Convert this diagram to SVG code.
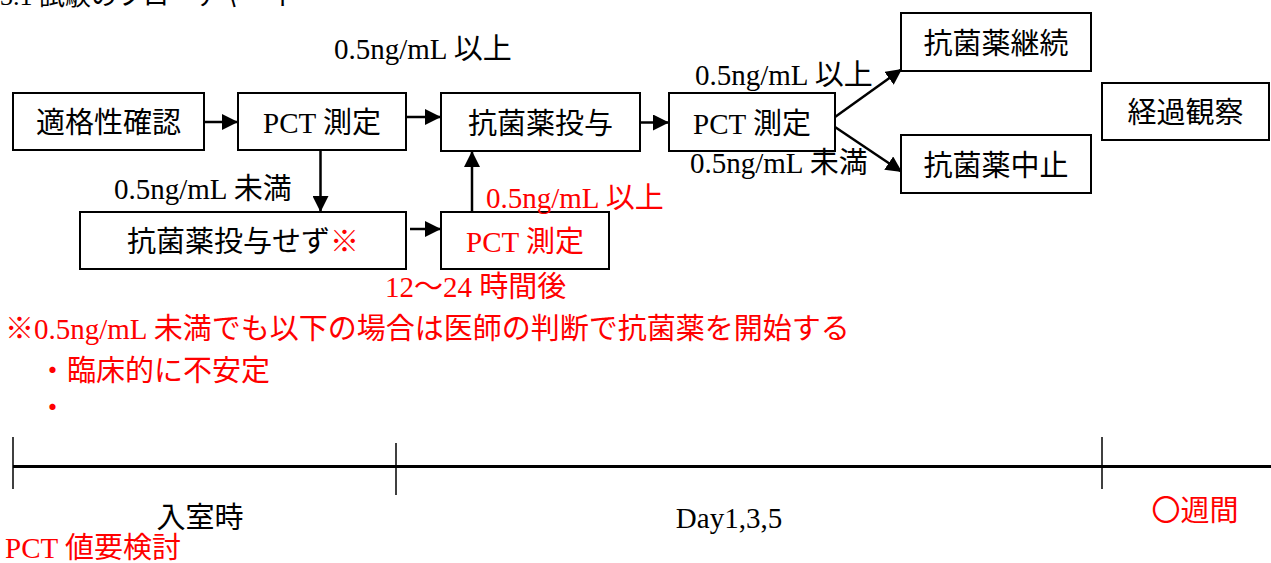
<svg xmlns="http://www.w3.org/2000/svg" width="1271" height="563" viewBox="0 0 1271 563">
<style>
text{font-family:"Liberation Serif","Noto Sans CJK JP",serif;font-size:29px;fill:#000}
.r{fill:#ff0000}
.c{text-anchor:middle}
.box{fill:#fff;stroke:#000;stroke-width:2}
.conn{stroke:#000;stroke-width:2.5;fill:none}
.tl{stroke:#000;fill:none}
</style>
<defs>
<marker id="ah" markerUnits="userSpaceOnUse" markerWidth="17" markerHeight="16" refX="16" refY="8" orient="auto">
<path d="M0,0 L16,8 L0,16 z" fill="#000"/>
</marker>
</defs>
<text x="0" y="5" style="font-size:26px">3.1 試験のフローチャート</text>

<g id="connectors">
<line class="conn" x1="204" y1="122" x2="238" y2="122" marker-end="url(#ah)"/>
<line class="conn" x1="406" y1="117" x2="441" y2="117" marker-end="url(#ah)"/>
<line class="conn" x1="640" y1="122.5" x2="669" y2="122.5" marker-end="url(#ah)"/>
<line class="conn" x1="320.5" y1="150" x2="320.5" y2="212" marker-end="url(#ah)"/>
<line class="conn" x1="472" y1="212" x2="472" y2="151" marker-end="url(#ah)"/>
<line class="conn" x1="410" y1="229" x2="441" y2="229" marker-end="url(#ah)"/>
<line class="conn" x1="835" y1="117" x2="902" y2="69" marker-end="url(#ah)"/>
<line class="conn" x1="835" y1="127" x2="902" y2="172" marker-end="url(#ah)"/>
</g>

<g id="n-eligibility"><rect class="box" x="13" y="93" width="191" height="57"/><text class="c" x="108.5" y="133">適格性確認</text></g>
<g id="n-pct1"><rect class="box" x="238" y="93" width="168" height="57"/><text class="c" x="322" y="133">PCT 測定</text></g>
<g id="n-abx"><rect class="box" x="441" y="93" width="199" height="58"/><text class="c" x="540.5" y="134">抗菌薬投与</text></g>
<g id="n-pct2"><rect class="box" x="669" y="93" width="166" height="58"/><text class="c" x="752" y="134">PCT 測定</text></g>
<g id="n-continue"><rect class="box" x="901" y="13" width="190" height="58"/><text class="c" x="996" y="54">抗菌薬継続</text></g>
<g id="n-stop"><rect class="box" x="901" y="135" width="190" height="58"/><text class="c" x="996" y="176">抗菌薬中止</text></g>
<g id="n-observe"><rect class="box" x="1102" y="83" width="167" height="57"/><text class="c" x="1185.5" y="123">経過観察</text></g>
<g id="n-noabx"><rect class="box" x="80" y="212" width="326" height="57"/><text class="c" x="243" y="252">抗菌薬投与せず<tspan class="r">※</tspan></text></g>
<g id="n-pct3"><rect class="box" x="441" y="212" width="168" height="57"/><text class="c r" x="525" y="252">PCT 測定</text></g>

<g id="labels">
<text x="334" y="59">0.5ng/mL 以上</text>
<text x="695" y="85">0.5ng/mL 以上</text>
<text x="690" y="173">0.5ng/mL 未満</text>
<text x="114" y="199">0.5ng/mL 未満</text>
<text class="r" x="486" y="208">0.5ng/mL 以上</text>
<text class="r" x="385" y="297">12～24 時間後</text>
<text class="r" x="5" y="339">※0.5ng/mL 未満でも以下の場合は医師の判断で抗菌薬を開始する</text>
<text class="r" x="38" y="381">・臨床的に不安定</text>
<text class="r" x="38" y="418">・</text>
</g>

<g id="timeline">
<line class="tl" x1="13" y1="466.5" x2="1271" y2="466.5" stroke-width="3"/>
<line class="tl" x1="13" y1="437" x2="13" y2="489" stroke-width="1.5"/>
<line class="tl" x1="396" y1="443" x2="396" y2="495" stroke-width="1.5"/>
<line class="tl" x1="1102" y1="437" x2="1102" y2="489" stroke-width="1.5"/>
<text class="c" x="200" y="528">入室時</text>
<text class="c" x="729" y="528">Day1,3,5</text>
<text class="c r" x="1195" y="521">〇週間</text>
<text class="r" x="5" y="558">PCT 値要検討</text>
</g>
</svg>
